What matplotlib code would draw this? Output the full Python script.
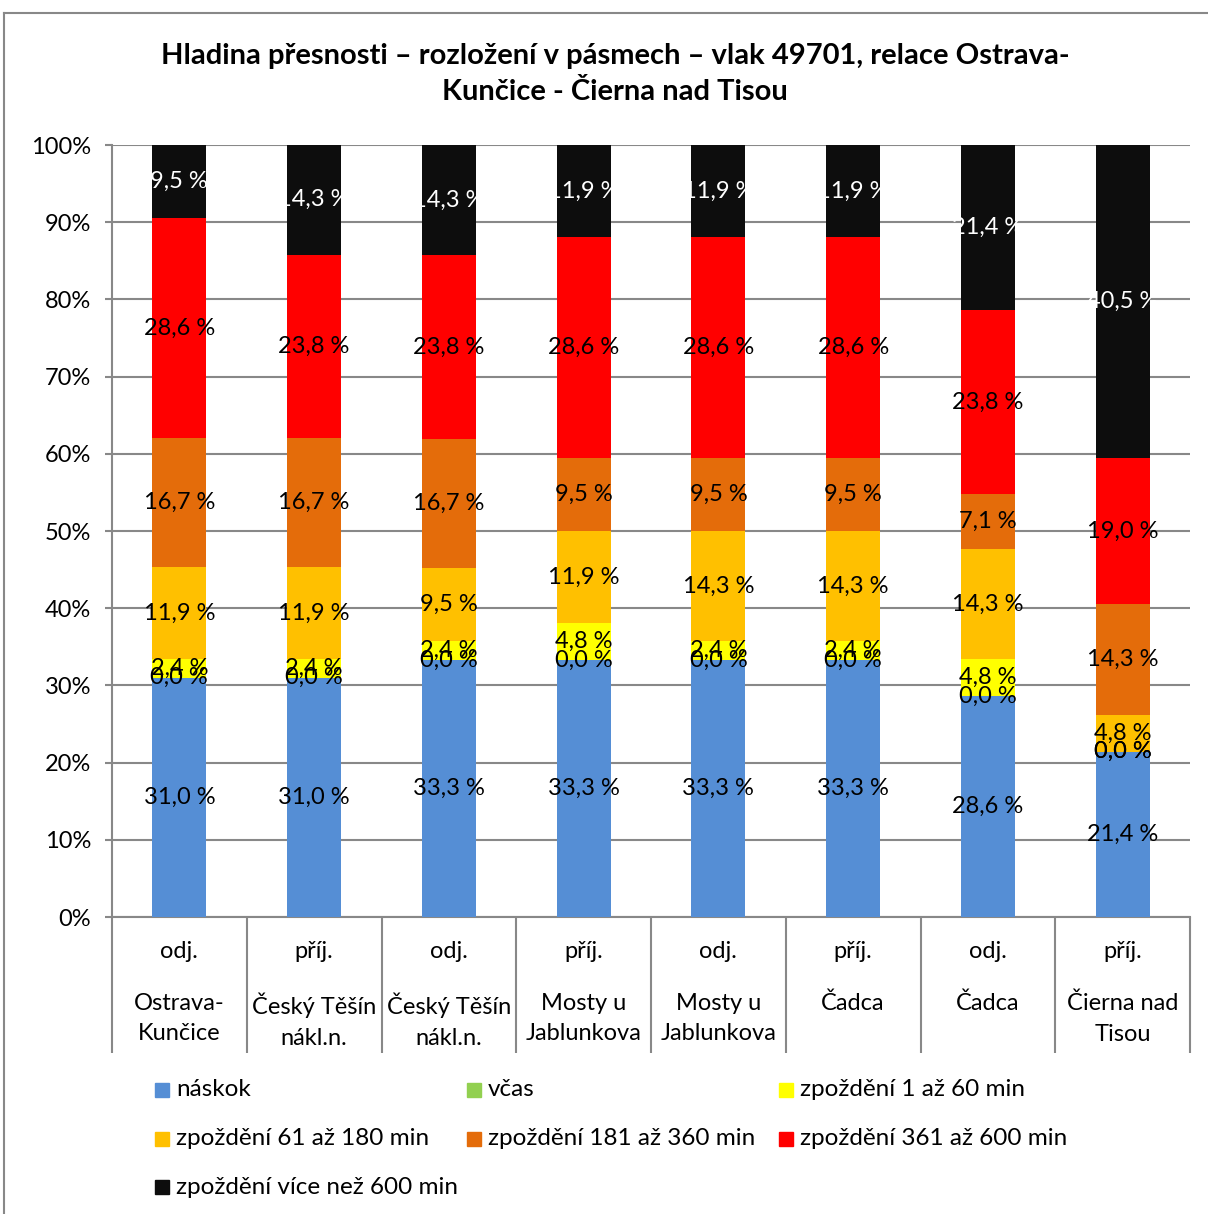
import matplotlib.pyplot as plt
import numpy as np
from matplotlib.patches import Rectangle
from matplotlib.lines import Line2D

plt.rcParams['font.family'] = ['Lato', 'DejaVu Sans']

# popisky kategorií (typ + stanice)
typy = ['odj.', 'příj.', 'odj.', 'příj.', 'odj.', 'příj.', 'odj.', 'příj.']
stanice = ['Ostrava-\nKunčice', 'Český Těšín\nnákl.n.', 'Český Těšín\nnákl.n.',
           'Mosty u\nJablunkova', 'Mosty u\nJablunkova', 'Čadca', 'Čadca',
           'Čierna nad\nTisou']

# hodnoty v procentech
naskok = [31.0, 31.0, 33.3, 33.3, 33.3, 33.3, 28.6, 21.4]
vcas = [0.0, 0.0, 0.0, 0.0, 0.0, 0.0, 0.0, 0.0]
zp_1_60 = [2.4, 2.4, 2.4, 4.8, 2.4, 2.4, 4.8, 0.0]
zp_61_180 = [11.9, 11.9, 9.5, 11.9, 14.3, 14.3, 14.3, 4.8]
zp_181_360 = [16.7, 16.7, 16.7, 9.5, 9.5, 9.5, 7.1, 14.3]
zp_361_600 = [28.6, 23.8, 23.8, 28.6, 28.6, 28.6, 23.8, 19.0]
zp_600 = [9.5, 14.3, 14.3, 11.9, 11.9, 11.9, 21.4, 40.5]

serie = [naskok, vcas, zp_1_60, zp_61_180, zp_181_360, zp_361_600, zp_600]
nazvy = ['náskok', 'včas', 'zpoždění 1 až 60 min', 'zpoždění 61 až 180 min',
         'zpoždění 181 až 360 min', 'zpoždění 361 až 600 min',
         'zpoždění více než 600 min']
barvy = ['#558ED5', '#92D050', '#FFFF00', '#FFC000', '#E46C0A', '#FF0000', '#0D0D0D']

W, H = 1208, 1214
fig = plt.figure(figsize=(W / 100, H / 100), dpi=100)

# ramecek grafu
fig.add_artist(Line2D([4 / W, 1.0], [1 - 13 / H, 1 - 13 / H], color='#888888', lw=1.5))
fig.add_artist(Line2D([4 / W, 4 / W], [0, 1 - 13 / H], color='#888888', lw=1.5))

ax = fig.add_axes([112 / W, 1 - 917 / H, (1190 - 112) / W, (917 - 145) / H])

x = np.arange(len(typy))
spodek = np.zeros(len(typy))
for hodnoty, nazev, barva in zip(serie, nazvy, barvy):
    ax.bar(x, hodnoty, 0.4, bottom=spodek, color=barva, zorder=3)
    popis_barva = 'white' if barva == '#0D0D0D' else 'black'
    for xi, b, v in zip(x, spodek, hodnoty):
        ax.text(xi, b + v / 2, ('%.1f %%' % v).replace('.', ','), ha='center',
                va='center', fontsize=17, color=popis_barva, zorder=4)
    spodek += np.array(hodnoty)

ax.set_xlim(-0.5, len(typy) - 0.5)
ax.set_ylim(0, 100)
ax.set_yticks(np.arange(0, 101, 10))
ax.set_yticklabels(['%d%%' % v for v in range(0, 101, 10)], fontsize=17)
ax.yaxis.grid(True, color='#888888', lw=1.5, zorder=0)
ax.tick_params(axis='y', length=5, width=1.5, color='#888888', pad=10)

# hranice kategorii
ax.set_xticks([])
ax.set_xticks(np.arange(-0.5, len(typy)), minor=True)
ax.tick_params(axis='x', which='minor', length=98, width=1.5, color='#888888')
ax.tick_params(axis='x', which='major', length=0)

for s in ['top', 'right']:
    ax.spines[s].set_visible(False)
for s in ['left', 'bottom']:
    ax.spines[s].set_color('#888888')
    ax.spines[s].set_linewidth(1.5)

trans = ax.get_xaxis_transform()
for xi, t, s in zip(x, typy, stanice):
    ax.text(xi, -(952 - 917) / 772, t, transform=trans, ha='center', va='center', fontsize=17)
    ax.text(xi, -(993 - 917) / 772, s, transform=trans, ha='center', va='top',
            fontsize=17, linespacing=1.55)

fig.text(615 / W, 1 - 74 / H,
         'Hladina přesnosti – rozložení v pásmech – vlak 49701, relace Ostrava-\n'
         'Kunčice - Čierna nad Tisou', ha='center', va='center', fontsize=21,
         fontweight='bold', linespacing=1.5)

# legenda
for i, (nazev, barva) in enumerate(zip(nazvy, barvy)):
    sl, rd = i % 3, i // 3
    lx = 155 + sl * 312
    ly = 1090 + rd * 48.5
    fig.add_artist(Rectangle((lx / W, 1 - (ly + 7) / H), 14 / W, 14 / H,
                             transform=fig.transFigure, color=barva))
    fig.text((lx + 21) / W, 1 - ly / H, nazev, ha='left', va='center', fontsize=17.5)

fig.savefig('out.png', dpi=100)
